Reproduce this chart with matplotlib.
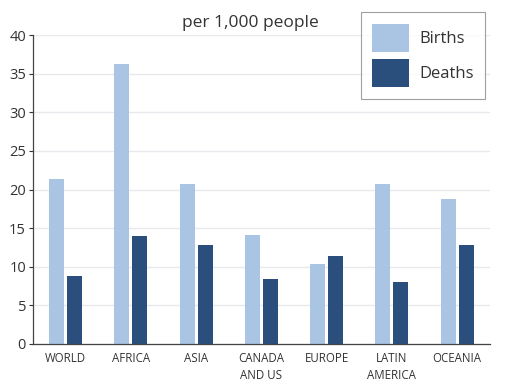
import numpy as np
import matplotlib.pyplot as plt
from matplotlib.patches import Patch

regions = ['WORLD', 'AFRICA', 'ASIA', 'CANADA\nAND US', 'EUROPE', 'LATIN\nAMERICA', 'OCEANIA']
births = [21.4, 36.2, 20.7, 14.1, 10.4, 20.7, 18.8]
deaths = [8.8, 14.0, 12.8, 8.4, 11.4, 8.0, 12.8]
yticks = [0, 5, 10, 15, 20, 25, 30, 35, 40]

birth_col = '#a9c5e3'
death_col = '#2b4f7c'
text_col = '#333333'

plt.rcParams['font.family'] = ['Open Sans', 'DejaVu Sans']

fig = plt.figure(figsize=(5.15, 3.9), dpi=100)
ax = fig.add_axes([0.064, 0.118, 0.887, 0.792])

x = np.arange(len(regions))
w = 0.23
ax.bar(x - w / 2 - 0.023, births, width=w, color=birth_col, zorder=2)
ax.bar(x + w / 2 + 0.023, deaths, width=w, color=death_col, zorder=2)

ax.set_xlim(-0.5, len(regions) - 0.5)
ax.set_ylim(0, 40)
ax.set_yticks(yticks)
ax.set_xticks(x)
ax.set_xticklabels(regions, fontsize=8.3, color=text_col, linespacing=1.4)
ax.tick_params(axis='y', labelsize=10.5, colors=text_col, length=3, width=0.8, pad=2)
ax.tick_params(axis='x', length=0, pad=6)
ax.grid(axis='y', color='#e6e9ee', linewidth=1, zorder=0)
for s in ['top', 'right']:
    ax.spines[s].set_visible(False)
for s in ['left', 'bottom']:
    ax.spines[s].set_color('#444444')
    ax.spines[s].set_linewidth(0.9)

fig.text(0.487, 0.94, 'per 1,000 people', fontsize=12.5, color=text_col, ha='center', va='center')

handles = [Patch(facecolor=birth_col, label='Births'), Patch(facecolor=death_col, label='Deaths')]
leg = fig.legend(handles=handles, loc='upper right', bbox_to_anchor=(0.942, 0.969),
                 borderaxespad=0, fontsize=12, frameon=True, fancybox=False,
                 handlelength=2.2, handleheight=2.2, handletextpad=0.6,
                 labelspacing=0.45, borderpad=0.7, labelcolor=text_col)
leg.get_frame().set_edgecolor('#888888')
leg.get_frame().set_linewidth(0.8)

fig.savefig('out.png', dpi=100)
